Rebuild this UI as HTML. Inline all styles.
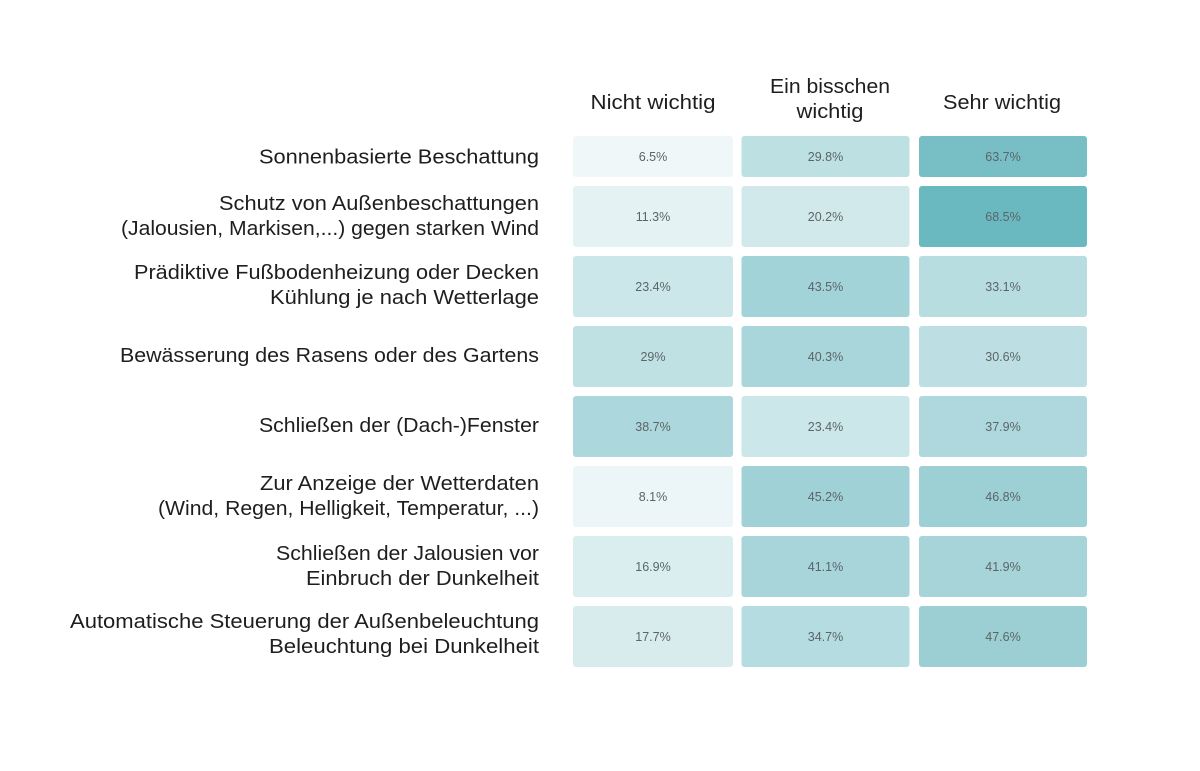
<!DOCTYPE html>
<html>
<head>
<meta charset="utf-8">
<style>
  html,body{margin:0;padding:0;background:#ffffff;}
  svg{display:block;}
  .lbl{font-family:"Liberation Sans",sans-serif;font-size:20px;fill:#1e1e1e;}
  .hdr{font-family:"Liberation Sans",sans-serif;font-size:20px;fill:#1e1e1e;}
  .val{font-family:"Liberation Sans",sans-serif;font-size:12.5px;fill:#5b6567;}
</style>
</head>
<body>
<svg width="1200" height="771" viewBox="0 0 1200 771" xmlns="http://www.w3.org/2000/svg">
  <rect x="0" y="0" width="1200" height="771" fill="#ffffff"/>

  <!-- Headers -->
  <text class="hdr" x="653" y="109" text-anchor="middle" textLength="125" lengthAdjust="spacingAndGlyphs">Nicht wichtig</text>
  <text class="hdr" x="830" y="93" text-anchor="middle" textLength="120" lengthAdjust="spacingAndGlyphs">Ein bisschen</text>
  <text class="hdr" x="830" y="118" text-anchor="middle" textLength="67" lengthAdjust="spacingAndGlyphs">wichtig</text>
  <text class="hdr" x="1002" y="109" text-anchor="middle" textLength="118" lengthAdjust="spacingAndGlyphs">Sehr wichtig</text>

  <!-- Row labels -->
  <text class="lbl" x="539" y="163.5" text-anchor="end" textLength="280" lengthAdjust="spacingAndGlyphs">Sonnenbasierte Beschattung</text>

  <text class="lbl" x="539" y="210" text-anchor="end" textLength="320" lengthAdjust="spacingAndGlyphs">Schutz von Außenbeschattungen</text>
  <text class="lbl" x="539" y="235" text-anchor="end" textLength="418" lengthAdjust="spacingAndGlyphs">(Jalousien, Markisen,...) gegen starken Wind</text>

  <text class="lbl" x="539" y="279" text-anchor="end" textLength="405" lengthAdjust="spacingAndGlyphs">Prädiktive Fußbodenheizung oder Decken</text>
  <text class="lbl" x="539" y="304" text-anchor="end" textLength="269" lengthAdjust="spacingAndGlyphs">Kühlung je nach Wetterlage</text>

  <text class="lbl" x="539" y="362" text-anchor="end" textLength="419" lengthAdjust="spacingAndGlyphs">Bewässerung des Rasens oder des Gartens</text>

  <text class="lbl" x="539" y="432" text-anchor="end" textLength="280" lengthAdjust="spacingAndGlyphs">Schließen der (Dach-)Fenster</text>

  <text class="lbl" x="539" y="490" text-anchor="end" textLength="279" lengthAdjust="spacingAndGlyphs">Zur Anzeige der Wetterdaten</text>
  <text class="lbl" x="539" y="515" text-anchor="end" textLength="381" lengthAdjust="spacingAndGlyphs">(Wind, Regen, Helligkeit, Temperatur, ...)</text>

  <text class="lbl" x="539" y="560" text-anchor="end" textLength="263" lengthAdjust="spacingAndGlyphs">Schließen der Jalousien vor</text>
  <text class="lbl" x="539" y="585" text-anchor="end" textLength="233" lengthAdjust="spacingAndGlyphs">Einbruch der Dunkelheit</text>

  <text class="lbl" x="539" y="628" text-anchor="end" textLength="469" lengthAdjust="spacingAndGlyphs">Automatische Steuerung der Außenbeleuchtung</text>
  <text class="lbl" x="539" y="653" text-anchor="end" textLength="270" lengthAdjust="spacingAndGlyphs">Beleuchtung bei Dunkelheit</text>

  <!-- Row 1 -->
  <rect x="573" y="136" width="160" height="41" rx="3" fill="rgb(239,247,248)"/>
  <rect x="741.5" y="136" width="168" height="41" rx="3" fill="rgb(189,224,227)"/>
  <rect x="919" y="136" width="168" height="41" rx="3" fill="rgb(120,191,197)"/>
  <text class="val" x="653" y="161" text-anchor="middle">6.5%</text>
  <text class="val" x="825.5" y="161" text-anchor="middle">29.8%</text>
  <text class="val" x="1003" y="161" text-anchor="middle">63.7%</text>

  <!-- Row 2 -->
  <rect x="573" y="186" width="160" height="61" rx="3" fill="rgb(229,242,244)"/>
  <rect x="741.5" y="186" width="168" height="61" rx="3" fill="rgb(210,233,236)"/>
  <rect x="919" y="186" width="168" height="61" rx="3" fill="rgb(107,185,192)"/>
  <text class="val" x="653" y="221" text-anchor="middle">11.3%</text>
  <text class="val" x="825.5" y="221" text-anchor="middle">20.2%</text>
  <text class="val" x="1003" y="221" text-anchor="middle">68.5%</text>

  <!-- Row 3 -->
  <rect x="573" y="256" width="160" height="61" rx="3" fill="rgb(204,231,234)"/>
  <rect x="741.5" y="256" width="168" height="61" rx="3" fill="rgb(162,211,216)"/>
  <rect x="919" y="256" width="168" height="61" rx="3" fill="rgb(183,221,225)"/>
  <text class="val" x="653" y="291" text-anchor="middle">23.4%</text>
  <text class="val" x="825.5" y="291" text-anchor="middle">43.5%</text>
  <text class="val" x="1003" y="291" text-anchor="middle">33.1%</text>

  <!-- Row 4 -->
  <rect x="573" y="326" width="160" height="61" rx="3" fill="rgb(192,225,228)"/>
  <rect x="741.5" y="326" width="168" height="61" rx="3" fill="rgb(169,214,219)"/>
  <rect x="919" y="326" width="168" height="61" rx="3" fill="rgb(189,223,227)"/>
  <text class="val" x="653" y="361" text-anchor="middle">29%</text>
  <text class="val" x="825.5" y="361" text-anchor="middle">40.3%</text>
  <text class="val" x="1003" y="361" text-anchor="middle">30.6%</text>

  <!-- Row 5 -->
  <rect x="573" y="396" width="160" height="61" rx="3" fill="rgb(172,215,220)"/>
  <rect x="741.5" y="396" width="168" height="61" rx="3" fill="rgb(204,231,234)"/>
  <rect x="919" y="396" width="168" height="61" rx="3" fill="rgb(174,216,221)"/>
  <text class="val" x="653" y="431" text-anchor="middle">38.7%</text>
  <text class="val" x="825.5" y="431" text-anchor="middle">23.4%</text>
  <text class="val" x="1003" y="431" text-anchor="middle">37.9%</text>

  <!-- Row 6 -->
  <rect x="573" y="466" width="160" height="61" rx="3" fill="rgb(236,245,247)"/>
  <rect x="741.5" y="466" width="168" height="61" rx="3" fill="rgb(159,209,214)"/>
  <rect x="919" y="466" width="168" height="61" rx="3" fill="rgb(156,208,213)"/>
  <text class="val" x="653" y="501" text-anchor="middle">8.1%</text>
  <text class="val" x="825.5" y="501" text-anchor="middle">45.2%</text>
  <text class="val" x="1003" y="501" text-anchor="middle">46.8%</text>

  <!-- Row 7 -->
  <rect x="573" y="536" width="160" height="61" rx="3" fill="rgb(218,237,239)"/>
  <rect x="741.5" y="536" width="168" height="61" rx="3" fill="rgb(167,213,218)"/>
  <rect x="919" y="536" width="168" height="61" rx="3" fill="rgb(166,212,217)"/>
  <text class="val" x="653" y="571" text-anchor="middle">16.9%</text>
  <text class="val" x="825.5" y="571" text-anchor="middle">41.1%</text>
  <text class="val" x="1003" y="571" text-anchor="middle">41.9%</text>

  <!-- Row 8 -->
  <rect x="573" y="606" width="160" height="61" rx="3" fill="rgb(216,236,238)"/>
  <rect x="741.5" y="606" width="168" height="61" rx="3" fill="rgb(181,220,224)"/>
  <rect x="919" y="606" width="168" height="61" rx="3" fill="rgb(155,207,212)"/>
  <text class="val" x="653" y="641" text-anchor="middle">17.7%</text>
  <text class="val" x="825.5" y="641" text-anchor="middle">34.7%</text>
  <text class="val" x="1003" y="641" text-anchor="middle">47.6%</text>
</svg>
</body>
</html>
